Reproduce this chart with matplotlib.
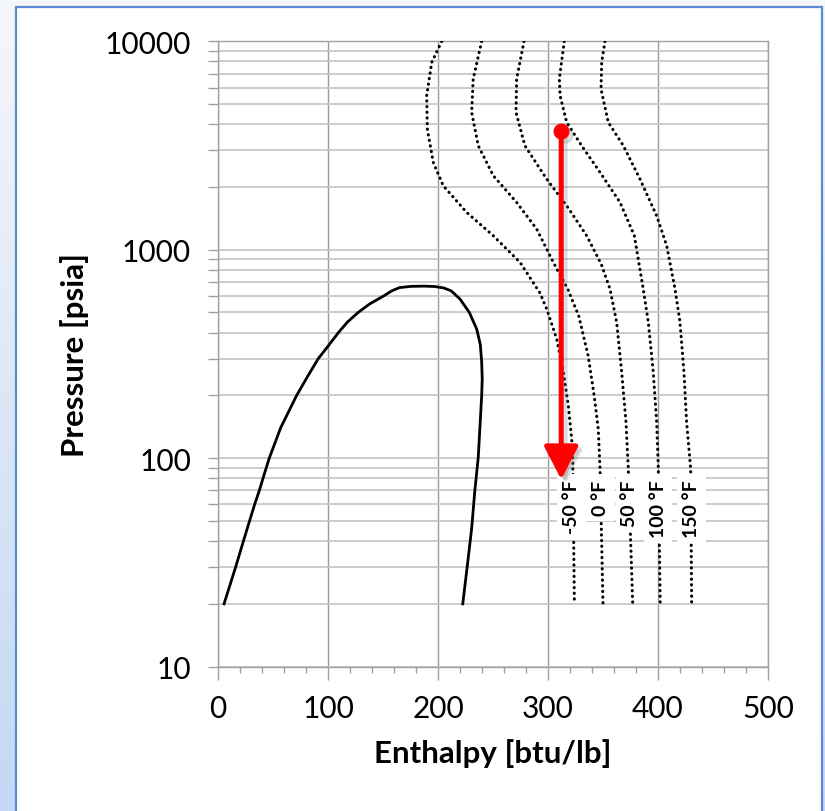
import numpy as np
import matplotlib
matplotlib.use("Agg")
import matplotlib.pyplot as plt
import matplotlib.transforms as mtransforms
from matplotlib.colors import LinearSegmentedColormap
from matplotlib.patches import Rectangle
from matplotlib.ticker import MultipleLocator, LogLocator, NullFormatter

plt.rcParams['font.family'] = ['Lato', 'DejaVu Sans']

# saturation dome (liquid side -> top -> vapour side)
dome_h = [5.5, 16.0, 23.1, 28.7, 33.3, 37.6, 40.9, 43.9, 46.6, 57.0, 71.5, 82.1, 91.1,
          100.3, 109.4, 117.7, 127.4, 138.0, 150.6, 158.0, 165.0, 175.0, 187.0,
          197.0, 205.0, 212.0, 220.0, 228.5, 235.2, 238.5, 239.7, 240.2, 239.7,
          236.6, 233.5, 230.6, 226.5, 222.5]
dome_p = [20, 30, 40, 50, 60, 70, 80, 90, 100, 140, 200, 250, 300,
          346, 400, 450, 500, 550, 600, 635, 658, 667, 669,
          666, 656, 635, 580, 500, 416, 350, 289, 240, 199,
          101, 70, 46, 30, 20]

# isotherms, read from top (10000 psia) down to 20 psia
iso_labels = ["-50 °F", "0 °F", "50 °F", "100 °F", "150 °F"]
iso_h = [
    [203.4, 194.3, 189.7, 190.3, 195.7, 204.8, 226.0, 250.3, 274.5, 292.7, 298.8,
     307.9, 314.0, 318.5, 321.5, 322.5, 324.0],
    [239.7, 232.0, 230.6, 236.6, 250.3, 271.5, 289.7, 304.8, 318.0, 328.0, 336.5,
     342.0, 345.7, 347.3, 350.0],
    [278.2, 271.5, 270.9, 279.0, 298.8, 317.0, 335.2, 348.5, 356.4, 362.4, 367.0,
     370.9, 373.0, 377.0],
    [314.8, 310.3, 311.0, 317.0, 330.6, 347.3, 365.5, 378.5, 386.6, 391.2, 395.7,
     398.8, 400.3, 402.0],
    [351.8, 348.8, 348.2, 354.8, 368.5, 383.6, 398.8, 407.9, 415.5, 420.0, 423.6,
     426.0, 429.7, 430.6],
]
iso_p = [
    [10000, 7925, 5480, 3794, 2624, 2027, 1511, 1167, 871, 620, 520,
     373, 258, 178, 124, 96, 20],
    [10000, 6590, 4560, 3155, 2265, 1687, 1257, 871, 647, 480, 310,
     199, 138, 89, 20],
    [10000, 6590, 4560, 3155, 2183, 1626, 1167, 850, 647, 449, 258,
     149, 89, 20],
    [10000, 6590, 5480, 4084, 3155, 2350, 1687, 1167, 647, 449, 258,
     149, 89, 20],
    [10000, 7925, 5900, 4084, 3155, 2183, 1455, 1045, 647, 449, 258,
     149, 89, 20],
]
label_h = [321.5, 347.5, 374.5, 400.0, 430.5]
label_p = 79

# compression path
arrow_h = 312
arrow_p = [3700, 79]

fig = plt.figure(figsize=(8.25, 8.12), dpi=100)

# background: blue gradient strip + white framed panel
bg = fig.add_axes([0, 0, 1, 1], zorder=-10)
bg.set_xlim(0, 1)
bg.set_ylim(0, 1)
bg.axis('off')
grad_cmap = LinearSegmentedColormap.from_list('bg', ['#c2d8f4', '#f6f7f9'])
bg.imshow(np.linspace(0, 1, 256).reshape(-1, 1), extent=[0, 1, 0, 1],
          aspect='auto', origin='lower', cmap=grad_cmap)
bg.add_patch(Rectangle((16 / 825, -0.01), (822 - 16) / 825, 1 - 8 / 812 + 0.01,
                       facecolor='white', edgecolor='#5b8bd0', lw=1.6))

ax = fig.add_axes([218 / 825, 1 - 667.6 / 812, 550 / 825, 625.3 / 812])
ax.set_facecolor('none')
ax.set_yscale('log')
ax.set_xlim(0, 500)
ax.set_ylim(10, 10000)

ax.plot(dome_h, dome_p, color='black', lw=2, zorder=3)

for h, p in zip(iso_h, iso_p):
    ax.plot(h, p, color='black', lw=2.2, linestyle=(0, (0.1, 1.75)),
            dash_capstyle='round', zorder=3)

for x, txt in zip(label_h, iso_labels):
    ax.text(x, label_p, txt, rotation=90, ha='center', va='top', fontsize=14,
            fontweight='bold', zorder=4,
            bbox=dict(boxstyle='square,pad=0.3', fc='white', ec='none'))

# shadow, then the arrow
shadow_tr = mtransforms.offset_copy(ax.transData, fig=fig, x=4, y=-4, units='dots')
arrow_kw = dict(arrowstyle='-|>,head_length=1.45,head_width=0.75', mutation_scale=14,
                lw=3.6, shrinkA=0, shrinkB=0)
ax.annotate('', xy=(arrow_h, arrow_p[1]), xytext=(arrow_h, arrow_p[0]),
            xycoords=shadow_tr, textcoords=shadow_tr,
            arrowprops=dict(color='#808080', alpha=0.25, **arrow_kw), zorder=5)
ax.plot(arrow_h, arrow_p[0], 'o', ms=10.5, color='#808080', alpha=0.25,
        transform=shadow_tr, zorder=5)
ax.annotate('', xy=(arrow_h, arrow_p[1]), xytext=(arrow_h, arrow_p[0]),
            arrowprops=dict(color='#ff0000', **arrow_kw), zorder=6)
ax.plot(arrow_h, arrow_p[0], 'o', ms=10.5, color='#ff0000', zorder=7)

# axes, ticks, grid
ax.set_yticks([10, 100, 1000, 10000], labels=['10', '100', '1000', '10000'])
ax.yaxis.set_minor_locator(LogLocator(base=10, subs=np.arange(2, 10)))
ax.yaxis.set_minor_formatter(NullFormatter())
ax.set_xticks([0, 100, 200, 300, 400, 500])
ax.xaxis.set_minor_locator(MultipleLocator(20))

ax.tick_params(axis='y', which='both', direction='out', length=7.5, width=1,
               color='#a0a0a0', labelsize=21.5, pad=12)
ax.tick_params(axis='x', which='major', direction='out', length=9, width=1,
               color='#a0a0a0', labelsize=21.5, pad=11)
ax.tick_params(axis='x', which='minor', direction='out', length=4.5, width=1,
               color='#a0a0a0')

ax.grid(axis='y', which='both', color='#c8c8c8', lw=1.3)
ax.grid(axis='x', which='major', color='#9a9a9a', lw=1)
ax.set_axisbelow(True)
for s in ax.spines.values():
    s.set_color('#a0a0a0')
    s.set_linewidth(1)

ax.set_xlabel('Enthalpy [btu/lb]', fontsize=22.5, fontweight='bold', labelpad=11)
ax.set_ylabel('Pressure [psia]', fontsize=22.5, fontweight='bold', labelpad=11)

fig.savefig('out.png', dpi=100)
